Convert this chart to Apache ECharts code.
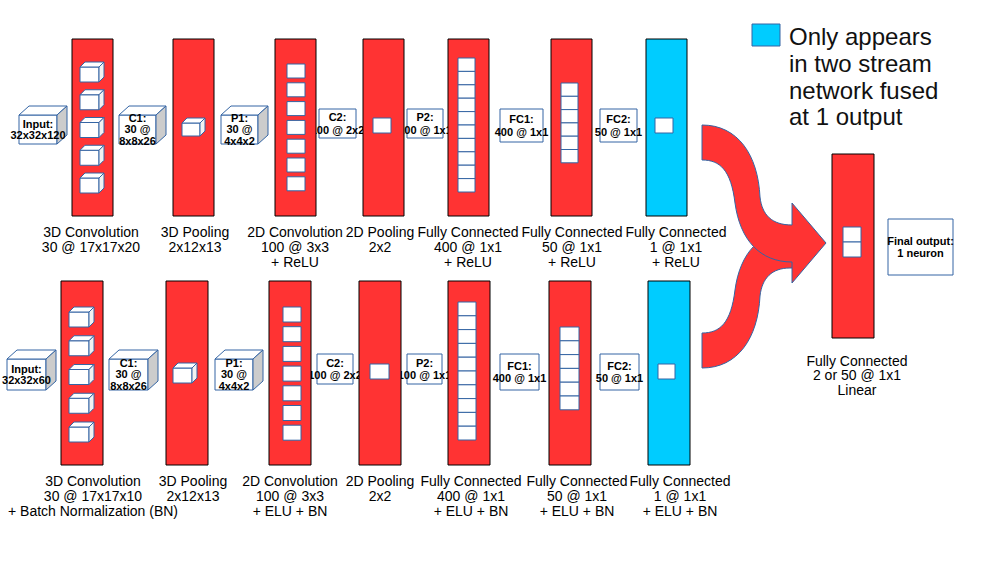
<!DOCTYPE html>
<html>
<head>
<meta charset="utf-8">
<title>Two stream network</title>
<script src="https://cdn.jsdelivr.net/npm/echarts@6/dist/echarts.min.js"></script>
<style>
html, body { margin: 0; padding: 0; background: #fff; }
#chart { width: 995px; height: 565px; }
</style>
</head>
<body>
<div id="chart"></div>
<script>
// ---- content ----
var topCaptions = [
    ['3D Convolution', '30 @ 17x17x20'],
    ['3D Pooling', '2x12x13'],
    ['2D Convolution', '100 @ 3x3', '+ ReLU'],
    ['2D Pooling', '2x2'],
    ['Fully Connected', '400 @ 1x1', '+ ReLU'],
    ['Fully Connected', '50 @ 1x1', '+ ReLU'],
    ['Fully Connected', '1 @ 1x1', '+ ReLU']
];
var bottomCaptions = [
    ['3D Convolution', '30 @ 17x17x10', '+ Batch Normalization (BN)'],
    ['3D Pooling', '2x12x13'],
    ['2D Convolution', '100 @ 3x3', '+ ELU + BN'],
    ['2D Pooling', '2x2'],
    ['Fully Connected', '400 @ 1x1', '+ ELU + BN'],
    ['Fully Connected', '50 @ 1x1', '+ ELU + BN'],
    ['Fully Connected', '1 @ 1x1', '+ ELU + BN']
];
var finalCaption = ['Fully Connected', '2 or 50 @ 1x1', 'Linear'];

var topBoxTexts = [
    ['Input:', '32x32x120'], ['C1:', '30 @', '8x8x26'], ['P1:', '30 @', '4x4x2'],
    ['C2:', '100 @ 2x2'], ['P2:', '100 @ 1x1'], ['FC1:', '400 @ 1x1'], ['FC2:', '50 @ 1x1']
];
var bottomBoxTexts = [
    ['Input:', '32x32x60'], ['C1:', '30 @', '8x8x26'], ['P1:', '30 @', '4x4x2'],
    ['C2:', '100 @ 2x2'], ['P2:', '100 @ 1x1'], ['FC1:', '400 @ 1x1'], ['FC2:', '50 @ 1x1']
];
var finalBoxText = ['Final output:', '1 neuron'];

// what sits inside each layer block
var unitCounts = [5, 1, 7, 1, 10, 6, 1];
var unitKinds = ['cube', 'cube', 'square', 'square', 'stack', 'stack', 'square'];
var twoStreamOnly = [0, 0, 0, 0, 0, 0, 1];   // cyan layers
var finalUnits = 2;
var boxIs3d = [1, 1, 1, 0, 0, 0, 0];

var legendText = ['Only appears', 'in two stream', 'network fused', 'at 1 output'];

// ---- layout (axis units = picture pixels) ----
var topRow = {
    layerX: [72, 173, 275, 363, 448, 551, 646], layerW: 41, y0: 39, y1: 216,
    unitX: [80, 182, 287, 373, 458, 561, 655],
    unitW: [19, 18, 18, 18, 17, 17, 18],
    unitY: [67, 123, 64, 118, 58, 83, 118],
    unitH: [15, 13, 14, 15, 13.4, 13.3, 15],
    unitStep: [27.75, 0, 18.8, 0, 13.4, 13.3, 0],
    captionX: [91, 195, 295, 380, 468, 572, 676], captionY: 224.5,
    boxes: [[19, 115, 57, 144], [119, 115, 156, 144], [221, 115, 258, 144], [319, 109, 356, 138],
            [407, 109, 443, 138], [500, 109, 543, 142], [600, 109, 637, 142]]
};
var bottomRow = {
    layerX: [61, 166, 269, 359, 448, 549, 648], layerW: 42, y0: 281, y1: 465,
    unitX: [69, 173, 283, 370, 458, 560, 658],
    unitW: [20, 19, 18, 19, 18, 19, 17],
    unitY: [312, 368, 307, 364, 302, 327, 364],
    unitH: [15, 15, 15, 15, 13.8, 13.8, 15],
    unitStep: [28.75, 0, 19.7, 0, 13.8, 13.8, 0],
    captionX: [93, 193, 290, 380, 471, 577, 680], captionY: 473.5,
    boxes: [[7, 359, 46, 390], [109, 359, 148, 390], [215, 359, 253, 390], [317, 354, 353, 384],
            [407, 354, 442, 384], [500, 354, 539, 390], [600, 354, 639, 390]]
};
var finalRow = {
    layerX: [832], layerW: 42, y0: 154, y1: 338,
    unitX: [843], unitW: [18], unitY: [227], unitH: [15], unitStep: [15],
    captionX: [857], captionY: 353.5,
    boxes: [[888, 219, 953, 275]]
};
var rows = [topRow, bottomRow, finalRow];
var captionsByRow = [topCaptions, bottomCaptions, [finalCaption]];
var boxTextsByRow = [topBoxTexts, bottomBoxTexts, [finalBoxText]];

// merging arrow: lower band under, upper band with head on top
var arrowShapes = [
    [['M', 702, 368], ['C', 738, 368, 758, 338, 760, 296], ['C', 762, 278, 772, 268, 790, 268],
     ['L', 800, 268], ['L', 800, 231], ['L', 792, 231], ['C', 760, 231, 740, 253, 735, 290],
     ['C', 731, 323, 720, 333, 702, 333], ['Z']],
    [['M', 702, 125], ['C', 738, 125, 758, 155, 760, 197], ['C', 762, 215, 772, 225, 792, 225],
     ['L', 792, 203], ['L', 826, 243], ['L', 792, 283], ['L', 792, 262],
     ['C', 760, 262, 740, 240, 735, 203], ['C', 731, 170, 720, 160, 702, 160], ['Z']]
];

var RED = '#ff3333', CYAN = '#00ccff', BLUE = '#3465a4', SIDE = '#cccccc', INK = '#000';
var FONT = '"Liberation Sans", Arial, sans-serif';

function cube(api, x, y, w, h, dx, dy, side, z2) {
    var p = function (a, b) { return api.coord([a, b]); };
    var st = { stroke: BLUE, lineWidth: 1 };
    return [
        { type: 'rect', z2: z2, shape: { x: p(x, y)[0], y: p(x, y)[1], width: api.size([w, 0])[0], height: api.size([0, h])[1] },
          style: { fill: '#fff', stroke: BLUE, lineWidth: 1 } },
        { type: 'polygon', z2: z2, shape: { points: [p(x, y), p(x + dx, y + dy), p(x + w + dx, y + dy), p(x + w, y)] },
          style: { fill: '#fff', stroke: st.stroke, lineWidth: 1 } },
        { type: 'polygon', z2: z2, shape: { points: [p(x + w, y), p(x + w + dx, y + dy), p(x + w + dx, y + h + dy), p(x + w, y + h)] },
          style: { fill: side, stroke: st.stroke, lineWidth: 1 } }
    ];
}

function plainRect(api, x, y, w, h, fill, stroke, z2) {
    var a = api.coord([x, y]), b = api.coord([x + w, y + h]);
    return { type: 'rect', z2: z2, shape: { x: a[0], y: a[1], width: b[0] - a[0], height: b[1] - a[1] },
             style: { fill: fill, stroke: stroke, lineWidth: 1 } };
}

function renderLayer(params, api) {
    var r = api.value(0), i = api.value(1);
    var R = rows[r];
    var children = [];
    var fill = (r < 2 && twoStreamOnly[i]) ? CYAN : RED;
    children.push(plainRect(api, R.layerX[i], R.y0, R.layerW, R.y1 - R.y0, fill, INK, 1));
    var n = r < 2 ? unitCounts[i] : finalUnits;
    var kind = r < 2 ? unitKinds[i] : 'stack';
    for (var k = 0; k < n; k++) {
        var uy = R.unitY[i] + k * R.unitStep[i];
        if (kind === 'cube') {
            children = children.concat(cube(api, R.unitX[i], uy, R.unitW[i], R.unitH[i], 5, -5, '#f2f2f2', 2));
        } else {
            children.push(plainRect(api, R.unitX[i], uy, R.unitW[i], R.unitH[i], '#fff', BLUE, 2));
        }
    }
    var lines = captionsByRow[r][i];
    var c = api.coord([R.captionX[i], R.captionY]);
    children.push({ type: 'text', z2: 3, style: { text: lines.join('\n'), x: c[0], y: c[1],
        align: 'center', verticalAlign: 'top', font: '14px ' + FONT, lineHeight: r === 2 ? 14.5 : 15, fill: INK } });
    return { type: 'group', children: children };
}

function renderBox(params, api) {
    var r = api.value(0), i = api.value(1);
    var b = rows[r].boxes[i];
    var children = [];
    var is3d = r < 2 && boxIs3d[i];
    if (is3d) {
        children = cube(api, b[0], b[1], b[2] - b[0], b[3] - b[1], 10, -9, SIDE, 1);
    } else {
        children.push(plainRect(api, b[0], b[1], b[2] - b[0], b[3] - b[1], '#fff', BLUE, 1));
    }
    var c = api.coord([(b[0] + b[2]) / 2, (b[1] + b[3]) / 2]);
    var lines = boxTextsByRow[r][i];
    children.push({ type: 'text', z2: 2, style: { text: lines.join('\n'), x: c[0], y: c[1] + (lines.length === 3 ? -0.5 : 0),
        align: 'center', verticalAlign: 'middle', font: 'bold 11px ' + FONT,
        lineHeight: is3d ? 11.5 : 12.5, fill: INK } });
    return { type: 'group', children: children };
}

function renderArrow(params, api) {
    var segs = arrowShapes[api.value(0)];
    var d = '';
    segs.forEach(function (s) {
        d += s[0];
        for (var k = 1; k < s.length; k += 2) {
            var p = api.coord([s[k], s[k + 1]]);
            d += (k > 1 ? ' ' : '') + p[0].toFixed(1) + ',' + p[1].toFixed(1);
        }
        d += ' ';
    });
    return { type: 'path', z2: params.dataIndex, shape: { pathData: d },
             style: { fill: RED, stroke: BLUE, lineWidth: 1 } };
}

function renderLegend(params, api) {
    var a = api.coord([752, 24]);
    var t = api.coord([789, 23.5]);
    return { type: 'group', children: [
        plainRect(api, 752, 24, 28, 22, CYAN, BLUE, 1),
        { type: 'text', style: { text: legendText.join('\n'), x: t[0], y: t[1], align: 'left', verticalAlign: 'top',
          font: '24px ' + FONT, lineHeight: 26.7, fill: '#111' } }
    ] };
}

var layerData = [], boxData = [];
for (var r = 0; r < 2; r++) {
    for (var i = 0; i < 7; i++) { layerData.push([r, i]); boxData.push([r, i]); }
}
layerData.push([2, 0]);
boxData.push([2, 0]);

var chart = echarts.init(document.getElementById('chart'), null, { renderer: 'svg' });
chart.setOption({
    animation: false,
    grid: { left: 0, right: 0, top: 0, bottom: 0 },
    xAxis: { type: 'value', min: 0, max: 995, show: false },
    yAxis: { type: 'value', min: 0, max: 565, inverse: true, show: false },
    series: [
        { type: 'custom', name: 'boxes', z: 1, coordinateSystem: 'cartesian2d', renderItem: renderBox, data: boxData, silent: true },
        { type: 'custom', name: 'layers', z: 2, coordinateSystem: 'cartesian2d', renderItem: renderLayer, data: layerData, silent: true },
        { type: 'custom', name: 'merge', z: 3, coordinateSystem: 'cartesian2d', renderItem: renderArrow, data: [[0], [1]], silent: true },
        { type: 'custom', name: 'legend', z: 3, coordinateSystem: 'cartesian2d', renderItem: renderLegend, data: [[0]], silent: true }
    ]
});
</script>
</body>
</html>
